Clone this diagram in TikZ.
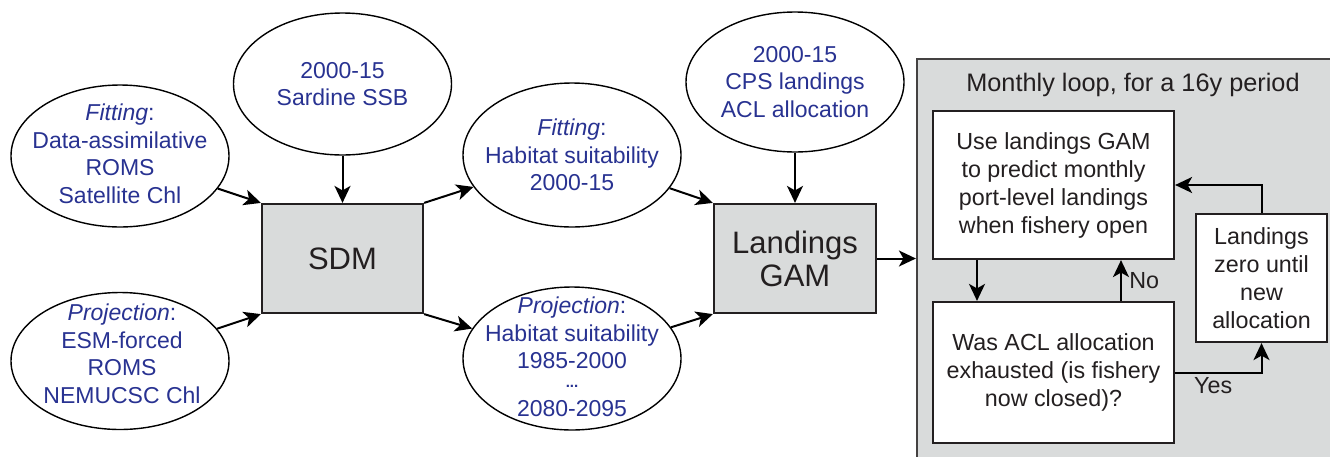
\documentclass[tikz,border=0pt]{standalone}
\usepackage{fontspec}
\setmainfont{Liberation Sans}
\usetikzlibrary{arrows.meta,positioning,shapes.geometric}
\definecolor{txtblue}{RGB}{40,50,145}
\definecolor{boxgray}{RGB}{217,219,219}
\definecolor{edge}{RGB}{35,31,32}
\tikzset{
  ell/.style={draw=black,line width=1.4pt,ellipse,minimum width=218pt,minimum height=142pt,inner sep=0pt},
  etext/.style={text=txtblue,align=center,font=\fontsize{23}{27.5}\selectfont},
  bigbox/.style={draw=edge,line width=2.2pt,fill=boxgray,text=edge,align=center,font=\fontsize{31}{33}\selectfont},
  wbox/.style={draw=edge,line width=2.2pt,fill=white,text=edge,align=center,font=\fontsize{23.3}{28}\selectfont},
  arr/.style={draw=black,line width=2pt,-{Stealth[length=17pt,width=16pt,inset=4.5pt]}},
  lbl/.style={text=edge,font=\fontsize{23.3}{28}\selectfont}
}
\begin{document}
\begin{tikzpicture}[x=1pt,y=-1pt]
\useasboundingbox (0,0) rectangle (1330,456);
% loop container
\node[draw=edge!85,line width=2.2pt,fill=boxgray,minimum width=430pt,minimum height=420pt,inner sep=0pt] (loop) at (1132,269) {};
\node[lbl,font=\fontsize{25.3}{28}\selectfont] (ttl) at (1133,85) {Monthly loop, for a 16y period};
% ellipses
\node[ell] (fitL) at (120,156) {};
\node[etext] at (120,154) {\textit{Fitting}:\\Data-assimilative\\ROMS\\Satellite Chl};
\node[ell,minimum height=137pt] (projL) at (120,361) {};
\node[etext] at (122,354) {\textit{Projection}:\\ESM-forced\\ROMS\\NEMUCSC Chl};
\node[ell] (sard) at (342.5,84) {};
\node[etext] at (sard) {2000-15\\Sardine SSB};
\node[ell,minimum height=144pt] (fitH) at (572,155) {};
\node[etext] at (572,155) {\textit{Fitting}:\\Habitat suitability\\2000-15};
\node[ell,minimum height=143pt] (projH) at (572,358.5) {};
\node[etext] at (572,357) {\textit{Projection}:\\Habitat suitability\\1985-2000\\[-9pt]{\fontsize{15}{15}\selectfont\textbf{...}}\\[2pt]2080-2095};
\node[ell,minimum height=140pt] (cps) at (795,82) {};
\node[etext] at (cps) {2000-15\\CPS landings\\ACL allocation};
% boxes
\node[bigbox,minimum width=161pt,minimum height=109pt] (sdm) at (342.5,258.5) {SDM};
\node[bigbox,minimum width=162pt,minimum height=109pt] (gam) at (795,258.5) {Landings\\GAM};
\node[wbox,minimum width=241pt,minimum height=148pt] (use) at (1053.5,185) {Use landings GAM\\to predict monthly\\port-level landings\\when fishery open};
\node[wbox,minimum width=241pt,minimum height=141pt] (was) at (1053.5,372.5) {Was ACL allocation\\exhausted (is fishery\\now closed)?};
\node[wbox,minimum width=131pt,minimum height=128pt] (zero) at (1261.5,278) {Landings\\zero until\\new\\allocation};
% connectors
\draw[arr] (fitL) -- (sdm.north west);
\draw[arr] (projL) -- (sdm.south west);
\draw[arr] (sard) -- (sdm.north);
\draw[arr] (sdm.north east) -- (fitH);
\draw[arr] (sdm.south east) -- (projH);
\draw[arr] (fitH) -- (gam.north west);
\draw[arr] (projH) -- (gam.south west);
\draw[arr] (cps) -- (gam.north);
\draw[arr] (gam.east) -- (gam.east -| loop.west);
\draw[arr] ([xshift=-76.5pt]use.south) -- ([xshift=-76.5pt]was.north);
\draw[arr] ([xshift=67.5pt]was.north) -- node[lbl,right=4pt,pos=0.5] {No} ([xshift=67.5pt]use.south);
\draw[arr] (was.east) -| node[lbl,below=1pt,pos=0.22] {Yes} (zero.south);
\draw[arr] (zero.north) |- (use.east);
\end{tikzpicture}
\end{document}
